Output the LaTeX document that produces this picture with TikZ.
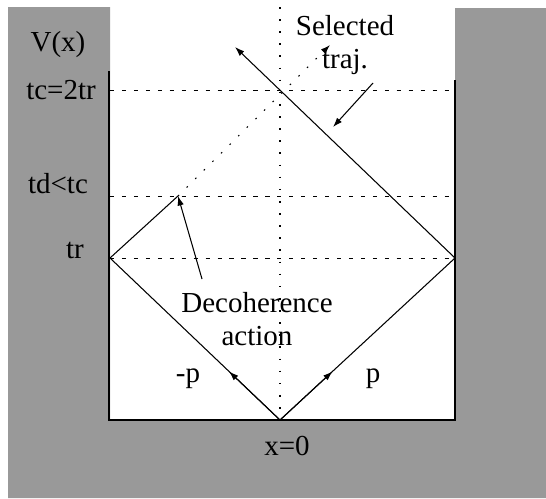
\documentclass[tikz,border=0pt]{standalone}
\usepackage{fontspec}
\setmainfont{Liberation Serif}
\usetikzlibrary{arrows.meta, calc}

\begin{document}
\begin{tikzpicture}[
    x=0.02cm, y=-0.02cm,
    wall/.style={fill=black!40, draw=none},
    barrier/.style={line width=1.2pt},
    guide/.style={dash pattern=on 2.4pt off 4.4pt, line width=0.5pt},
    axis/.style={dash pattern=on 0.9pt off 6pt, line width=0.7pt},
    traj/.style={line width=0.6pt},
    ghost/.style={dash pattern=on 0.9pt off 6pt, line width=0.7pt},
    arrow/.style={-{Latex[length=1.9mm, width=1.3mm]}, line width=0.6pt},
    txt/.style={font=\fontsize{16.5}{19}\selectfont, inner sep=0pt, align=center}
]
\useasboundingbox (0,0) rectangle (546,498);

% the well
\fill[wall] (8,7) -- (110,7) -- (110,420) -- (455,420) -- (455,8)
    -- (546,8) -- (546,498) -- (8,498) -- cycle;
\draw[barrier] (109,71) -- (109,420) -- (455,420) -- (455,80);

% time levels and x=0
\draw[guide] (110,90) -- (455,90);
\draw[guide] (110,196) -- (455,196);
\draw[guide] (110,258) -- (455,258);
\draw[axis] (280,7) -- (280,420);

\coordinate (o) at (280,420);
\coordinate (lhit) at (110,258);
\coordinate (rhit) at (455,258);
\coordinate (dec) at (178,196);
\coordinate (ghost) at (330,45);
\coordinate (sel) at (235,47);

% trajectories
\draw[traj] (o) -- (lhit) -- (dec);
\draw[ghost, arrow] (dec) -- (ghost);
\draw[traj] (o) -- (rhit);
\draw[arrow] (rhit) -- (sel);
\draw[arrow] (o) -- ($(o)!0.3!(lhit)$);
\draw[arrow] (o) -- ($(o)!0.3!(rhit)$);

% labels
\node[txt] (vx) at (58,45) {V(x)};
\node[txt] (tc) at (61,90) {tc=2tr};
\node[txt] (td) at (58,184) {td<tc};
\node[txt] (tr) at (75,250) {tr};
\node[txt] (seltxt) at (345,45) {Selected\\traj.};
\node[txt] (dectxt) at (257,319) {Decoherence\\action};
\node[txt] (mp) at (188,379) {-p};
\node[txt] (pp) at (373,379) {p};
\node[txt] (x0) at (287,446) {x=0};

\coordinate (selfrom) at (373,83);
\coordinate (selto) at (333,127);
\coordinate (decfrom) at (202,279);
\draw[arrow] (selfrom) -- (selto);
\draw[arrow] (decfrom) -- (dec);
\end{tikzpicture}
\end{document}
